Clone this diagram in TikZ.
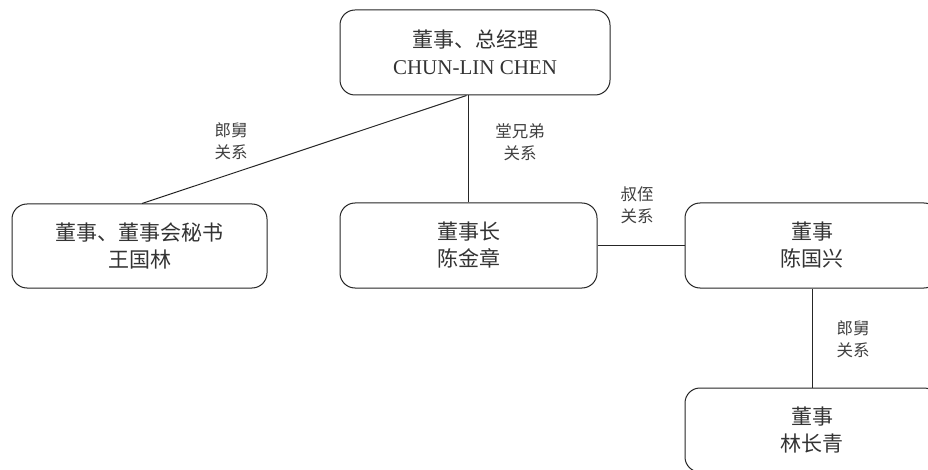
\documentclass[tikz,border=0pt]{standalone}
\usepackage{fontspec}
\setmainfont{Liberation Serif}
\newfontfamily\cjk{Noto Sans CJK SC}
\begin{document}
\begin{tikzpicture}[x=1pt,y=-1pt,
  box/.style={draw=black!85, line width=1pt, rounded corners=15pt, fill=white, align=center, inner sep=0pt, font=\fontsize{21}{27}\selectfont, text=black!80},
  rel/.style={align=center, font=\cjk\fontsize{16.5}{22}\selectfont, text=black!75, inner sep=0pt},
  link/.style={draw=black!85, line width=1pt}]
\useasboundingbox (0,0) rectangle (928,470);
\node[box, minimum width=270pt, minimum height=85pt] (top) at (475,52.5) {{\cjk 董事、总经理}\\CHUN-LIN CHEN};
\node[box, minimum width=255pt, minimum height=84pt] (left) at (139.5,246) {\cjk 董事、董事会秘书\\\cjk 王国林};
\node[box, minimum width=257pt, minimum height=85pt] (mid) at (468.5,245.5) {\cjk 董事长\\\cjk 陈金章};
\node[box, minimum width=254pt, minimum height=85pt] (right) at (812,245.5) {\cjk 董事\\\cjk 陈国兴};
\node[box, minimum width=254pt, minimum height=84pt] (bot) at (812,430) {\cjk 董事\\\cjk 林长青};
\draw[link] ([xshift=-2pt]mid.north |- top.south) -- ([xshift=2.5pt]left.north);
\draw[link] (mid.north |- top.south) -- (mid.north);
\draw[link] (mid.east) -- (right.west);
\draw[link] (right.south) -- (bot.north);
\node[rel] (l1) at (231,141) {郎舅\\关系};
\node[rel] (l2) at (520,142) {堂兄弟\\关系};
\node[rel] (l3) at (637,205) {叔侄\\关系};
\node[rel] (l4) at (853,339) {郎舅\\关系};
\end{tikzpicture}
\end{document}
